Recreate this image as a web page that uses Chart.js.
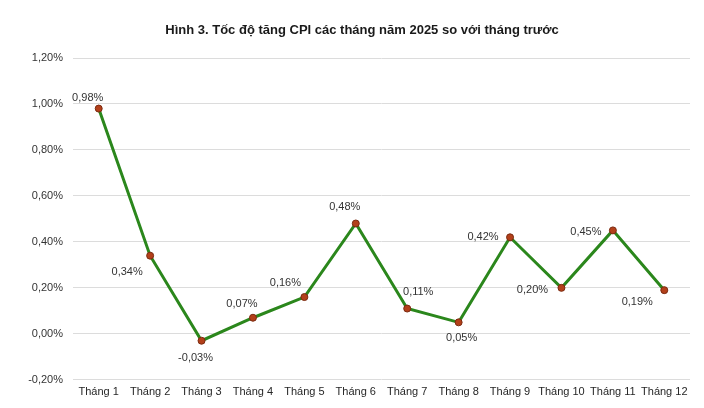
<!DOCTYPE html>
<html>
<head>
<meta charset="utf-8">
<script src="https://cdn.jsdelivr.net/npm/chart.js@4.4.1/dist/chart.umd.min.js"></script>
<style>
    html, body { margin: 0; padding: 0; background: #ffffff; }
    #wrap { width: 704px; height: 408px; }
</style>
</head>
<body>
<div id="wrap"><canvas id="cpiChart"></canvas></div>
<script>
// month labels and CPI growth (% vs previous month)
const months = ["Tháng 1", "Tháng 2", "Tháng 3", "Tháng 4", "Tháng 5", "Tháng 6",
    "Tháng 7", "Tháng 8", "Tháng 9", "Tháng 10", "Tháng 11", "Tháng 12"];
const cpiGrowth = [0.98, 0.34, -0.03, 0.07, 0.16, 0.48, 0.11, 0.05, 0.42, 0.20, 0.45, 0.19];
const yTicks = [-0.2, 0, 0.2, 0.4, 0.6, 0.8, 1.0, 1.2];
const chartTitle = "Hình 3. Tốc độ tăng CPI các tháng năm 2025 so với tháng trước";

// where each value label sits relative to its point (dx, dy in px)
const labelOffsets = [
    [-11, -11], [-23, 16], [-6, 17], [-11, -14], [-19, -14], [-11, -17],
    [11, -17], [3, 16], [-27, 0], [-29, 2], [-27, 2], [-27, 12]
];

const FONT = "'Liberation Sans Narrow', 'Liberation Sans', Arial, sans-serif";

// format like 0,98%
const fmt = (v) => v.toFixed(2).replace(".", ",") + "%";

// draws the value labels next to the points + the title (a bit right of centre like original)
const valueLabels = {
    id: "valueLabels",
    afterDatasetsDraw(chart) {
        const ctx = chart.ctx;
        const meta = chart.getDatasetMeta(0);
        ctx.save();
        ctx.font = "11px " + FONT;
        ctx.fillStyle = "#333333";
        ctx.textAlign = "center";
        ctx.textBaseline = "middle";
        meta.data.forEach((pt, i) => {
            const off = labelOffsets[i];
            ctx.fillText(fmt(cpiGrowth[i]), pt.x + off[0], pt.y + off[1]);
        });

        ctx.font = "bold 13px " + FONT;
        ctx.fillStyle = "#1a1a1a";
        ctx.fillText(chartTitle, chart.width / 2 + 10, 30);
        ctx.restore();
    }
};

new Chart(document.getElementById("cpiChart"), {
    type: "line",
    data: {
        labels: months,
        datasets: [{
            data: cpiGrowth,
            borderColor: "#2b871c",
            borderWidth: 3,
            tension: 0,
            pointRadius: 3.5,
            pointBackgroundColor: "#b3401a",
            pointBorderColor: "#7a2a10",
            pointBorderWidth: 1
        }]
    },
    options: {
        responsive: true,
        maintainAspectRatio: false,
        animation: false,
        layout: { padding: { left: 0, right: 14, top: 58, bottom: 3 } },
        plugins: {
            legend: { display: false },
            tooltip: { enabled: false },
            title: { display: false }
        },
        scales: {
            x: {
                offset: true,
                grid: { display: false, drawTicks: false },
                border: { display: false },
                ticks: {
                    color: "#262626",
                    font: { family: FONT, size: 11 },
                    maxRotation: 0,
                    autoSkip: false,
                    padding: 6
                }
            },
            y: {
                min: -0.2,
                max: 1.2,
                afterBuildTicks: (axis) => { axis.ticks = yTicks.map(v => ({ value: v })); },
                afterFit: (axis) => { axis.width = 73; },
                grid: { color: "#dcdcdc", drawTicks: false },
                border: { display: false },
                ticks: {
                    color: "#333333",
                    font: { family: FONT, size: 11 },
                    padding: 10,
                    callback: (v) => fmt(v)
                }
            }
        }
    },
    plugins: [valueLabels]
});
</script>
</body>
</html>
